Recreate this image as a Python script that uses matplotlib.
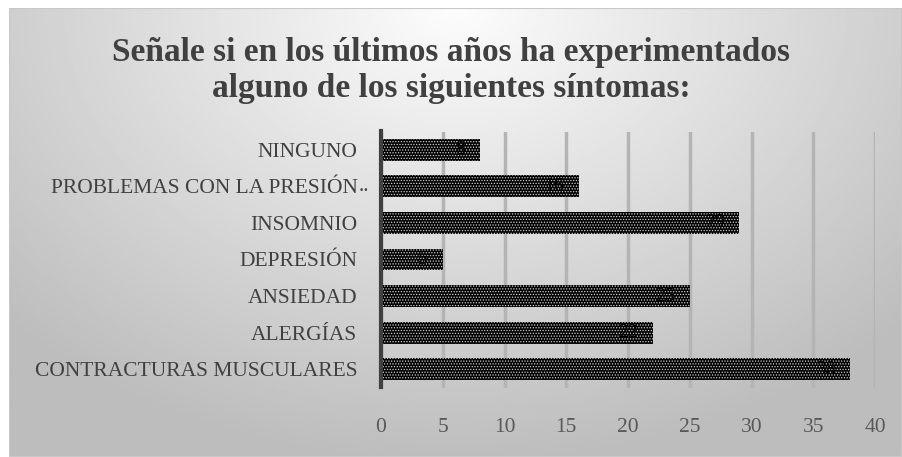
import numpy as np
import matplotlib.pyplot as plt
from matplotlib.patches import Rectangle

# Data
categories = ['CONTRACTURAS MUSCULARES', 'ALERGÍAS', 'ANSIEDAD', 'DEPRESIÓN',
              'INSOMNIO', 'PROBLEMAS CON LA PRESIÓN', 'NINGUNO']
values = [38, 22, 25, 5, 29, 16, 8]
xticks = [0, 5, 10, 15, 20, 25, 30, 35, 40]
title = 'Señale si en los últimos años ha experimentados\nalguno de los siguientes síntomas:'

plt.rcParams['font.family'] = ['Liberation Serif', 'DejaVu Serif']
plt.rcParams['hatch.linewidth'] = 0.6

fig = plt.figure(figsize=(9.02, 4.57), dpi=100)
fig.patch.set_facecolor('white')

# gradient background for chart area
bg = fig.add_axes([9 / 902, 0, 1 - 9 / 902, 1 - 8 / 457])
bg.set_axis_off()
gx, gy = np.meshgrid(np.linspace(0, 1, 400), np.linspace(0, 1, 200))
r = np.sqrt(((gx - 0.5) / 0.75) ** 2 + ((gy - 0.0) / 1.1) ** 2)
shade = np.clip(0.99 - 0.27 * r, 0.74, 0.99)
bg.imshow(shade, cmap='gray', vmin=0, vmax=1, aspect='auto',
          extent=[0, 1, 1, 0], origin='upper')
bg.set_xlim(0, 1)
bg.set_ylim(1, 0)
bg.add_patch(Rectangle((0, 0), 1, 1, fill=False, edgecolor='#c8c8c8',
                       lw=1.5, transform=bg.transAxes))

ax = fig.add_axes([381 / 902, 1 - 387.5 / 457, (875 - 381) / 902, (387.5 - 131.5) / 457])
ax.patch.set_alpha(0)
y = np.arange(len(categories))
ax.barh(y, values, height=0.6, color='black', edgecolor='#d0d0d0',
        hatch='......', linewidth=0, zorder=3)
for yi, v in zip(y, values):
    ax.text(v - 1.2, yi, str(v), ha='right', va='center', fontsize=14,
            color='black', zorder=4)

ax.set_xlim(0, 40)
ax.set_ylim(-0.5, len(categories) - 0.5)
ax.set_xticks(xticks)
ax.set_yticks(y)
ax.set_yticklabels(categories)
ax.xaxis.grid(True, color='#b4b4b4', linewidth=2.5, zorder=1)
ax.set_axisbelow(True)
for s in ['top', 'right', 'bottom']:
    ax.spines[s].set_visible(False)
ax.spines['left'].set_color('#404040')
ax.spines['left'].set_linewidth(3)
ax.spines['left'].set_zorder(5)
ax.tick_params(axis='x', length=0, pad=22, labelsize=15.5, labelcolor='#595959')
ax.tick_params(axis='y', length=0, pad=17, labelsize=15.5, labelcolor='#404040')
ax.text(-22 / 494, 5, '..', transform=ax.get_yaxis_transform(), ha='left',
        va='center', fontsize=15.5, color='#404040')

fig.text(0.5, 0.845, title, ha='center', va='center', fontsize=24,
         fontweight='bold', color='#404040', linespacing=1.2)

fig.savefig('out.png', dpi=100, facecolor=fig.get_facecolor())
